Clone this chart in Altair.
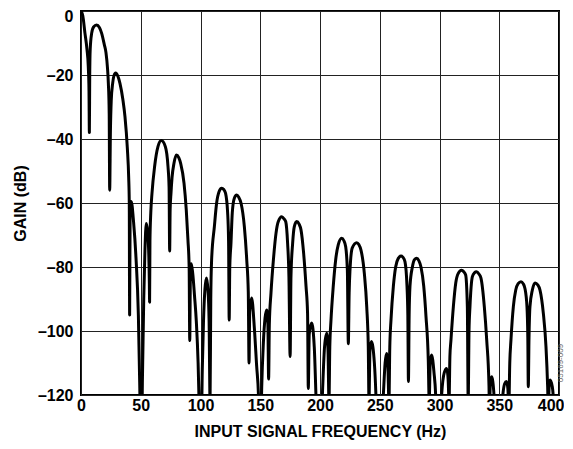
import altair as alt
import pandas as pd

# (frequency Hz, gain dB), lobe by lobe
seg_main = [(0, 0), (1.5, -1.5), (3.3, -6.9), (5, -12), (6.1, -17.4), (6.7, -25), (7, -38)]
seg_a1 = [(7.3, -20), (7.7, -12), (8.9, -7), (10.5, -5), (13, -4.4), (15.5, -5.2), (17.3, -7),
          (19.5, -10.5), (20.9, -13), (22.2, -18), (22.9, -22.6), (23.6, -32), (24, -56)]
seg_a2 = [(24.6, -38), (25.3, -28), (26.5, -22.6), (27.6, -20.2), (29, -19.4), (30.8, -20.3),
          (32.6, -22.6), (35.1, -27.8), (36.8, -33), (38.8, -43), (39.9, -52), (40.4, -60), (40.7, -95)]
seg_50 = [(41.1, -64), (42, -59.5), (44, -66), (46, -77), (48, -95), (49.3, -120), (50, -135),
          (50.7, -135), (51.4, -115), (52.5, -90), (53.5, -75), (54.6, -66.4), (55.8, -69),
          (56.7, -76), (57.2, -85), (57.4, -91)]
seg_b1 = [(57.7, -72), (58.4, -63), (59.4, -57), (61.6, -48.6), (64.4, -42.4), (67.2, -40.5),
          (70.6, -42.4), (72.8, -48.6), (73.7, -55), (74.2, -75)]
seg_b2 = [(74.6, -62), (75.3, -57), (76.2, -52), (77.8, -47.6), (79.8, -45), (81.8, -45.8),
          (83.4, -47.6), (86.2, -53.8), (88.1, -62.2), (89.5, -71.6), (90.5, -80), (91, -103)]
seg_100 = [(91.5, -84), (92.3, -79), (93.5, -82), (95, -89), (96.5, -97), (98, -110), (99, -125),
           (100, -135), (100.5, -135), (101.5, -112), (102.5, -97), (103.7, -87), (105, -83.4),
           (106.2, -87), (107.2, -97), (108, -122)]
seg_c1 = [(108.6, -90), (109.3, -77.8), (111.6, -67.4), (113.5, -60), (115.5, -56.5), (117.7, -55.4),
          (119.5, -55.8), (121, -57), (122.7, -63), (123.5, -72), (124, -96.6)]
seg_c2 = [(124.5, -80), (125.5, -72.6), (126.6, -63), (128.3, -58.5), (130.3, -57.5), (132, -58.2),
          (133.9, -60), (136.7, -67.4), (138.7, -77.8), (140, -88), (140.6, -110)]
seg_150 = [(141.2, -94), (142.8, -89.7), (145, -98.7), (147, -111), (148.5, -120), (149.5, -135),
           (150.3, -135), (151.2, -118), (152.6, -103.8), (154, -96), (155.4, -93.4), (156.4, -98),
           (157, -115)]
seg_d1 = [(157.6, -98), (159, -88), (161, -77.8), (163.2, -69.4), (165.1, -65.8), (168, -64.3),
          (170, -65), (171.3, -65.8), (172.9, -72.6), (174, -83), (175, -108)]
seg_d2 = [(175.7, -83), (177.1, -72.6), (178.5, -67.4), (180.5, -65.8), (182.5, -66.6), (184.1, -68.4),
          (186.3, -75.7), (188.3, -86), (189.6, -94.5), (190.2, -118)]
seg_200 = [(191, -101), (193, -97.5), (195.2, -105), (196.6, -120), (197.8, -135), (200, -140),
           (202, -120), (203.8, -105), (205.6, -100.7), (206.7, -106), (207.5, -122)]
seg_e1 = [(208.2, -105), (209.2, -96.6), (211.1, -86), (213.1, -77.8), (215.3, -73), (218.1, -71),
          (220, -71.8), (221.5, -73.7), (222.9, -81), (223.7, -104)]
seg_e2 = [(224.4, -88), (225.1, -81), (227, -74), (230.7, -72.4), (232.5, -73), (234.3, -74.7),
          (237.1, -82), (239.1, -92.4), (240.4, -105), (241, -122)]
seg_250 = [(241.8, -106), (243, -103.3), (245.5, -110), (246.8, -120), (248, -135), (250, -140),
           (253, -120), (254.5, -110), (255.7, -107), (256.8, -111), (257.7, -122)]
seg_f1 = [(258.4, -105), (259.4, -96.6), (261.4, -86), (263.3, -80), (265.5, -77.3), (267.8, -76.6),
          (269.5, -77), (271.1, -78.3), (272.8, -86), (273.5, -95), (274, -115.8)]
seg_f2 = [(274.6, -95), (275.3, -86), (277.3, -80), (279, -77.7), (280.9, -77.3), (282.7, -78),
          (284.5, -80), (286.8, -86), (288.7, -95.5), (290.6, -109), (291.4, -122)]
seg_300 = [(292.2, -110), (293.4, -107.5), (295.4, -113), (296.8, -120), (298, -135), (300, -140),
           (301.8, -120), (304, -113), (306, -111.7), (307.2, -115), (308, -122)]
seg_g1 = [(308.7, -108), (309.6, -102.8), (311.6, -92.4), (313.6, -85), (315.7, -82), (318.5, -81),
          (320.3, -81.5), (321.9, -82.5), (323.3, -92.4), (324, -122)]
seg_g2 = [(324.7, -100), (325.5, -92.4), (327.5, -83), (329.2, -81.8), (331, -81.5), (333, -82.2),
          (334.7, -83.5), (337.5, -92.4), (339.5, -102.8), (341.4, -117), (341.8, -124)]
seg_350 = [(342.6, -116), (343.6, -114.3), (345.6, -120), (347, -135), (350, -140), (353, -120),
           (354.5, -116.5), (356, -115.8), (357.2, -118), (358, -124)]
seg_h1 = [(358.8, -110), (359.8, -102.8), (361.8, -92.4), (363.8, -87.2), (365.8, -85.2), (368.2, -84.6),
          (370, -85.2), (371.5, -86.7), (373.2, -92.4), (373.9, -102), (374.3, -117.4)]
seg_h2 = [(374.9, -102), (375.7, -92.4), (377.7, -87.2), (380, -85), (382.2, -85.6), (384.1, -87.2),
          (386.9, -94.5), (389.1, -104.9), (390.5, -117.4), (391, -124)]
seg_400 = [(391.8, -117), (392.5, -115.3), (394.4, -117.4), (395.5, -122), (397, -135), (400, -140)]

segments = [seg_main, seg_a1, seg_a2, seg_50, seg_b1, seg_b2, seg_100, seg_c1, seg_c2, seg_150,
            seg_d1, seg_d2, seg_200, seg_e1, seg_e2, seg_250, seg_f1, seg_f2, seg_300, seg_g1,
            seg_g2, seg_350, seg_h1, seg_h2, seg_400]

x_ticks = [0, 50, 100, 150, 200, 250, 300, 350, 400]
y_ticks = [-120, -100, -80, -60, -40, -20, 0]
fig_code = ["05169-009"]

rows = [{"f": f, "g": g} for seg in segments for (f, g) in seg]
df = pd.DataFrame(rows)

FONT = "Liberation Sans"

line = alt.Chart(df).mark_line(
    color="black", strokeWidth=3, clip=True, interpolate="monotone",
    strokeJoin="round", strokeCap="round"
).encode(
    x=alt.X("f:Q", scale=alt.Scale(domain=[0, 400], nice=False),
            axis=alt.Axis(values=x_ticks, title="INPUT SIGNAL FREQUENCY (Hz)",
                          labelBaseline="middle", labelPadding=10,
                          labelAlign={"condition": {"test": "datum.value == 400", "value": "right"},
                                      "value": "center"},
                          labelOffset={"condition": {"test": "datum.value == 400", "value": 5},
                                       "value": 0},
                          titleY=36, titleBaseline="middle")),
    y=alt.Y("g:Q", scale=alt.Scale(domain=[-120, 0], nice=False),
            axis=alt.Axis(values=y_ticks, title="GAIN (dB)",
                          labelExpr="datum.value < 0 ? '\u2013' + abs(datum.value) : '0'",
                          labelOffset={"condition": {"test": "datum.value == 0", "value": 5},
                                       "value": 0},
                          labelPadding=8, titleX=-61, titleY=192, titleBaseline="middle")),
)

code = alt.Chart(pd.DataFrame({"t": fig_code})).mark_text(
    angle=270, fontSize=8, color="#666", font=FONT
).encode(x=alt.value(480), y=alt.value(352), text="t:N")

chart = alt.layer(line, code).properties(
    width=478, height=384,
    autosize=alt.AutoSizeParams(type="none"),
    padding={"left": 73, "top": 3, "right": 5, "bottom": 46},
).configure_view(
    stroke="black", strokeWidth=2
).configure_axis(
    grid=True, gridColor="#222", gridWidth=1, gridOpacity=1,
    domain=False, ticks=False,
    labelFont=FONT, labelFontWeight="bold", labelFontSize=16, labelColor="black",
    titleFont=FONT, titleFontWeight="bold", titleFontSize=16, titleColor="black",
)

chart.save("out.html", embed_options={"renderer": "svg", "actions": False})
